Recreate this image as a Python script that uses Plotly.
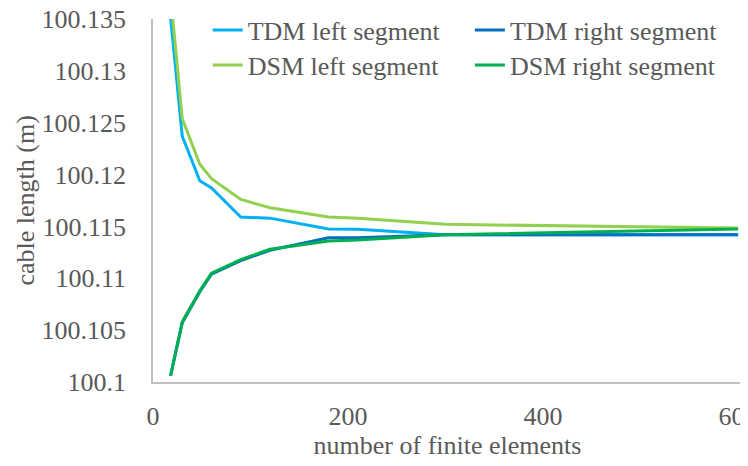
import plotly.graph_objects as go

elements = [18, 30, 48, 60, 90, 120, 180, 210, 300, 600]
tdm_left = [100.1352, 100.1237, 100.1194, 100.1187, 100.1159, 100.1158, 100.11475, 100.11473, 100.1142, 100.1142]
tdm_right = [100.1006, 100.1057, 100.1087, 100.1104, 100.1117, 100.1127, 100.1139, 100.1139, 100.1142, 100.1142]
dsm_left = [100.1373, 100.1254, 100.1210, 100.1196, 100.1176, 100.1168, 100.1159, 100.1158, 100.1152, 100.11485]
dsm_right = [100.1006, 100.1058, 100.1088, 100.1105, 100.1118, 100.1128, 100.1136, 100.1137, 100.1142, 100.11475]

y_ticks = [100.1, 100.105, 100.11, 100.115, 100.12, 100.125, 100.13, 100.135]
y_tick_text = ["100.1", "100.105", "100.11", "100.115", "100.12", "100.125", "100.13", "100.135"]
x_ticks = [0, 200, 400, 600]

FONT = "Liberation Serif, Times New Roman, serif"
GREY = "#595959"
FS = 26

fig = go.Figure()
series = [
    ("TDM left segment", tdm_left, "#00B0F0", "legend", 0.267, 0.9528),
    ("TDM right segment", tdm_right, "#0070C0", "legend2", 0.6175, 0.9528),
    ("DSM left segment", dsm_left, "#92D050", "legend3", 0.267, 0.8777),
    ("DSM right segment", dsm_right, "#00B050", "legend4", 0.6175, 0.8777),
]
legends = {}
for name, vals, color, lg, lx, ly in series:
    fig.add_trace(go.Scatter(x=elements, y=vals, mode="lines", name=name, showlegend=True,
                             line=dict(color=color, width=3), legend=lg))
    legends[lg] = dict(x=lx, y=ly, xref="container", yref="container",
                       xanchor="left", yanchor="middle", visible=True,
                       font=dict(family=FONT, size=FS, color=GREY),
                       bgcolor="rgba(0,0,0,0)", borderwidth=0)

fig.update_layout(
    width=748, height=466,
    margin=dict(l=145, r=14, t=11, b=92, autoexpand=False),
    showlegend=True,
    paper_bgcolor="white", plot_bgcolor="white",
    font=dict(family=FONT, size=FS, color=GREY),
    xaxis=dict(range=[0, 604], tickvals=x_ticks, showgrid=False, zeroline=False,
               showline=True, linecolor="#BFBFBF", linewidth=1.5, ticks="",
               automargin=False, ticklabeloverflow="allow",
               ticklabelstandoff=10, tickfont=dict(family=FONT, size=FS, color=GREY),
               title=dict(text="number of finite elements",
                          font=dict(family=FONT, size=FS, color=GREY), standoff=6)),
    yaxis=dict(range=[100.1, 100.135], tickvals=y_ticks, ticktext=y_tick_text,
               showgrid=False, zeroline=False, showline=True, linecolor="#BFBFBF",
               linewidth=1.5, ticks="", ticklabelstandoff=20, automargin=False,
               ticklabeloverflow="allow",
               tickfont=dict(family=FONT, size=FS, color=GREY)),
    annotations=[dict(text="cable length (m)", textangle=-90, showarrow=False,
                      xref="paper", yref="paper", x=-0.2173, y=0.5,
                      xanchor="center", yanchor="middle",
                      font=dict(family=FONT, size=FS, color=GREY))],
    **legends,
)

fig.write_html("out.html")
